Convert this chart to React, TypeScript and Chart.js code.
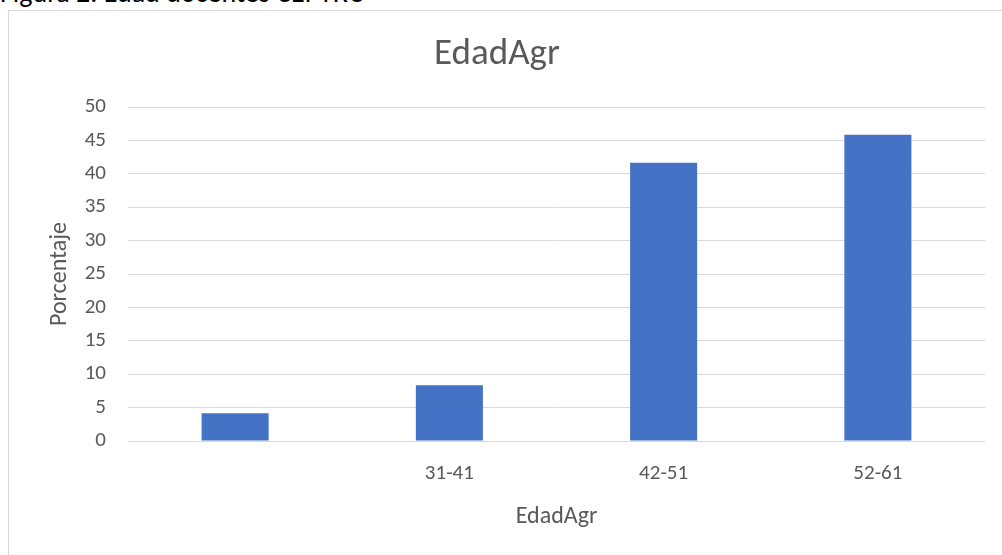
import React, { useEffect, useRef } from "react";
import { Chart, registerables } from "chart.js";

Chart.register(...registerables);

const categories = ["", "31-41", "42-51", "52-61"];
const values = [4.17, 8.33, 41.67, 45.83];
const chartTitle = "EdadAgr";
const xTitle = "EdadAgr";
const yTitle = "Porcentaje";
const caption = "Figura 2. Edad docentes CEPTRO";

const FONT = "Carlito, Calibri, Lato, 'Liberation Sans', sans-serif";
const GRAY = "#595959";

export default function App() {
  const ref = useRef<HTMLCanvasElement | null>(null);
  useEffect(() => {
    if (!ref.current) return;
    const chart = new Chart(ref.current, {
      type: "bar",
      data: {
        labels: categories,
        datasets: [
          {
            label: "EdadAgr",
            data: values,
            backgroundColor: "#4472C4",
            borderWidth: 0,
            barPercentage: 0.313,
            categoryPercentage: 1,
          },
        ],
      },
      options: {
        responsive: false,
        animation: false,
        layout: { padding: { left: 0, right: 17, top: 0, bottom: 0 } },
        plugins: {
          legend: { display: false },
          tooltip: { enabled: false },
          title: {
            display: true,
            text: chartTitle,
            color: GRAY,
            font: { family: FONT, size: 37, weight: "normal" },
            padding: { top: 21.8, bottom: 29.8 },
          },
        },
        scales: {
          x: {
            grid: { display: false, drawTicks: false },
            border: { display: false },
            ticks: {
              color: GRAY,
              font: { family: FONT, size: 21 },
              padding: 20,
              maxRotation: 0,
            },
            title: {
              display: true,
              text: xTitle,
              color: GRAY,
              font: { family: FONT, size: 24 },
              padding: { top: 0, bottom: 23.6 },
            },
            afterFit: (s: any) => {
              s.height = 114;
            },
          },
          y: {
            min: 0,
            max: 50,
            grid: { color: "#d9d9d9", lineWidth: 1, drawTicks: false },
            border: { display: false },
            ticks: {
              stepSize: 5,
              color: GRAY,
              font: { family: FONT, size: 21 },
              padding: 22,
            },
            title: {
              display: true,
              text: yTitle,
              color: GRAY,
              font: { family: FONT, size: 24 },
              padding: { top: 37, bottom: 0 },
            },
            afterFit: (s: any) => {
              s.width = 119;
            },
          },
        },
      },
    });
    return () => chart.destroy();
  }, []);

  return (
    <div
      style={{
        position: "fixed",
        left: 0,
        top: 0,
        width: 1002,
        height: 555,
        background: "#fff",
        overflow: "hidden",
      }}
    >
      <div
        style={{
          position: "absolute",
          left: 0,
          top: -21,
          fontFamily: FONT,
          fontSize: 28,
          lineHeight: "28px",
          color: "#000",
          whiteSpace: "nowrap",
        }}
      >
        {caption}
      </div>
      <div
        style={{
          position: "absolute",
          left: 8,
          top: 10,
          width: 994,
          height: 545,
          borderLeft: "1px solid #d9d9d9",
          borderTop: "1px solid #d9d9d9",
        }}
      >
        <canvas ref={ref} width={993} height={544} style={{ display: "block" }} />
      </div>
    </div>
  );
}
